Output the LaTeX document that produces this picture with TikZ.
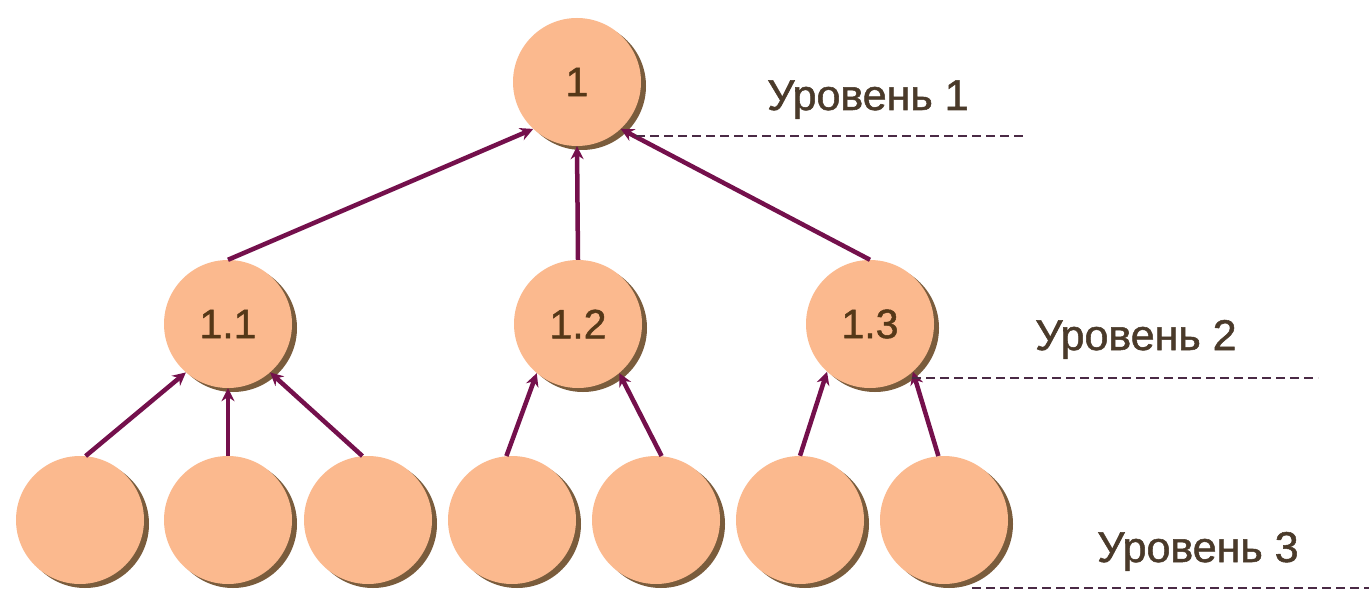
\documentclass[tikz,border=0pt]{standalone}
\usepackage{fontspec}
\setmainfont{Liberation Sans}
\newfontfamily\heavyfont[FakeBold=1.2]{Liberation Sans}
\usetikzlibrary{shadows,arrows.meta}
\definecolor{peach}{HTML}{FBB98E}
\definecolor{shade}{HTML}{7A5C3C}
\definecolor{arrc}{HTML}{74104C}
\definecolor{txt}{HTML}{4A3A2A}
\definecolor{numc}{HTML}{553818}
\definecolor{dashc}{HTML}{4A2A45}
\begin{document}
\begin{tikzpicture}[x=1pt,y=-1pt,
  vertex/.style={circle,minimum size=128pt,inner sep=0pt,fill=peach,
    general shadow={shadow xshift=5pt,shadow yshift=-4pt,fill=shade},
    font=\heavyfont\fontsize{41}{48}\selectfont,text=numc},
  arr/.style={draw=arrc,line width=4.5pt,-{Stealth[length=13pt,width=13pt]}},
  lvlline/.style={draw=dashc,line width=2.2pt,dash pattern=on 9pt off 5pt},
  lbl/.style={anchor=base west,inner sep=0pt,font=\heavyfont\fontsize{43}{50}\selectfont,text=txt}]
\useasboundingbox[fill=white] (0,0) rectangle (1369,591);
% nodes
\node[vertex] (n1) at (577,82) {1};
\node[vertex] (n11) at (228,324) {1.1};
\node[vertex] (n12) at (578,324) {1.2};
\node[vertex] (n13) at (870,324) {1.3};
\node[vertex] (c1) at (80,520) {};
\node[vertex] (c2) at (228,520) {};
\node[vertex] (c3) at (368,520) {};
\node[vertex] (c4) at (512,520) {};
\node[vertex] (c5) at (656,520) {};
\node[vertex] (c6) at (800,520) {};
\node[vertex] (c7) at (944,520) {};
% arrows
\draw[arr] (c1.85) -- (n11.229);
\draw[arr] (c2.north) -- (n11.south);
\draw[arr] (c3.95) -- (n11.311);
\draw[arr] (c4.95) -- (n12.230);
\draw[arr] (c5.85) -- (n12.310);
\draw[arr] (c6.90) -- (n13.228);
\draw[arr] (c7.95) -- (n13.312);
\draw[arr] (n11.north) -- (n1.227);
\draw[arr] (n12.north) -- (n1.south);
\draw[arr] (n13.north) -- (n1.313);
% level lines
\coordinate (d1a) at (636,136);
\coordinate (d1b) at (1025,136);
\coordinate (d2a) at (912,378);
\coordinate (d2b) at (1318,378);
\coordinate (d3a) at (972,588);
\coordinate (d3b) at (1369,588);
\draw[lvlline] (d1a) -- (d1b);
\draw[lvlline] (d2a) -- (d2b);
\draw[lvlline] (d3a) -- (d3b);
% labels
\node[lbl] (l1) at (767,110) {Уровень 1};
\node[lbl] (l2) at (1035,350) {Уровень 2};
\node[lbl] (l3) at (1097,562) {Уровень 3};
\end{tikzpicture}
\end{document}
